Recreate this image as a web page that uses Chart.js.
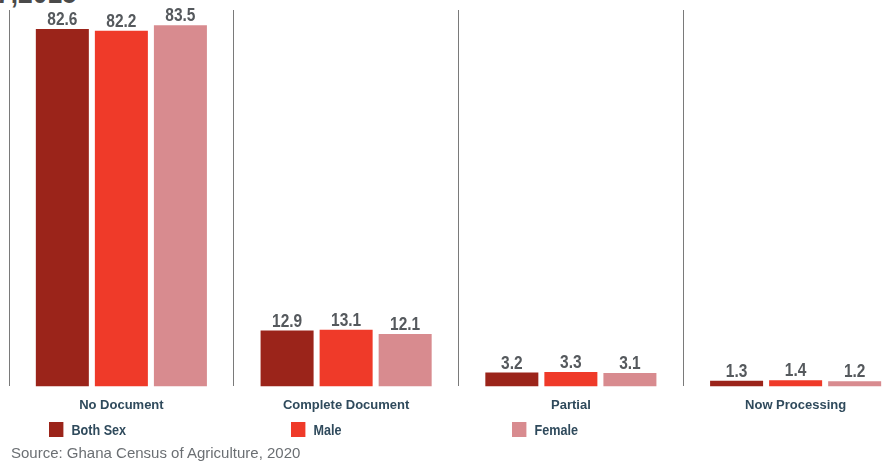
<!DOCTYPE html>
<html>
<head>
<meta charset="utf-8">
<script src="https://cdn.jsdelivr.net/npm/chart.js@4"></script>
<style>
  html, body { margin:0; padding:0; background:#fff; width:896px; height:462px; overflow:hidden; position:relative; }
  #wrap { position:absolute; left:0; top:0; width:910px; height:424px; }
  #title { position:absolute; left:-4px; top:-24px; font: bold 30px 'Liberation Sans', Arial, sans-serif; color:#4a4a4a; white-space:nowrap; transform:scaleX(0.88); transform-origin:left top; }
  .leg { position:absolute; top:421px; height:17px; display:flex; align-items:center; font: bold 14px 'Liberation Sans', Arial, sans-serif; color:#2f4a5c; transform:scaleX(0.9); transform-origin:left center; }
  .leg span.box { display:inline-block; width:16px; height:15px; margin-right:9px; }
  #source { position:absolute; left:11px; top:444px; font: 15px 'Liberation Sans', Arial, sans-serif; color:#6b6f73; white-space:nowrap; }
</style>
</head>
<body>
<div id="title">7,2015</div>
<div id="wrap"><canvas id="c"></canvas></div>
<div id="legend"></div>
<div id="source">Source: Ghana Census of Agriculture, 2020</div>
<script>
const categories = ["No Document", "Complete Document", "Partial", "Now Processing"];
const seriesNames = ["Both Sex", "Male", "Female"];
const bothSex = [82.6, 12.9, 3.2, 1.3];
const male = [82.2, 13.1, 3.3, 1.4];
const female = [83.5, 12.1, 3.1, 1.2];
const colors = ["#9b241a", "#ef3a29", "#d88b8f"];
const legendX = [49, 291, 512];

const valueLabels = {
  id: 'valueLabels',
  afterDatasetsDraw(chart) {
    const ctx = chart.ctx;
    ctx.save();
    ctx.font = "bold 18px 'Liberation Sans', Arial, sans-serif";
    ctx.fillStyle = "#55595d";
    ctx.textAlign = "center";
    ctx.textBaseline = "alphabetic";
    const sx = 0.86;
    chart.data.datasets.forEach((ds, i) => {
      chart.getDatasetMeta(i).data.forEach((bar, j) => {
        ctx.save();
        ctx.translate(bar.x, bar.y - 4);
        ctx.scale(sx, 1);
        ctx.fillText(ds.data[j].toFixed(1), 0, 0);
        ctx.restore();
      });
    });
    ctx.restore();
  }
};

new Chart(document.getElementById('c'), {
  type: 'bar',
  data: {
    labels: categories,
    datasets: [
      { label: seriesNames[0], data: bothSex, backgroundColor: colors[0] },
      { label: seriesNames[1], data: male, backgroundColor: colors[1] },
      { label: seriesNames[2], data: female, backgroundColor: colors[2] }
    ]
  },
  options: {
    responsive: true,
    maintainAspectRatio: false,
    animation: false,
    layout: { padding: { left: 9, right: 2, top: 10, bottom: 0 } },
    datasets: { bar: { categoryPercentage: 0.788, barPercentage: 0.898 } },
    plugins: { legend: { display: false }, tooltip: { enabled: false } },
    scales: {
      x: {
        grid: { display: true, offset: true, color: "#7a7a7a", lineWidth: 1, drawTicks: false },
        border: { display: false },
        ticks: {
          color: "#2f4a5c",
          padding: 11,
          font: { family: "'Liberation Sans', Arial, sans-serif", size: 13, weight: 'bold' }
        }
      },
      y: { display: false, min: 0, max: 87, grid: { display: false } }
    }
  },
  plugins: [valueLabels]
});

const legend = document.getElementById('legend');
seriesNames.forEach((n, i) => {
  const d = document.createElement('div');
  d.className = 'leg';
  d.style.left = legendX[i] + 'px';
  d.innerHTML = '<span class="box" style="background:' + colors[i] + '"></span>' + n;
  legend.appendChild(d);
});
</script>
</body>
</html>
